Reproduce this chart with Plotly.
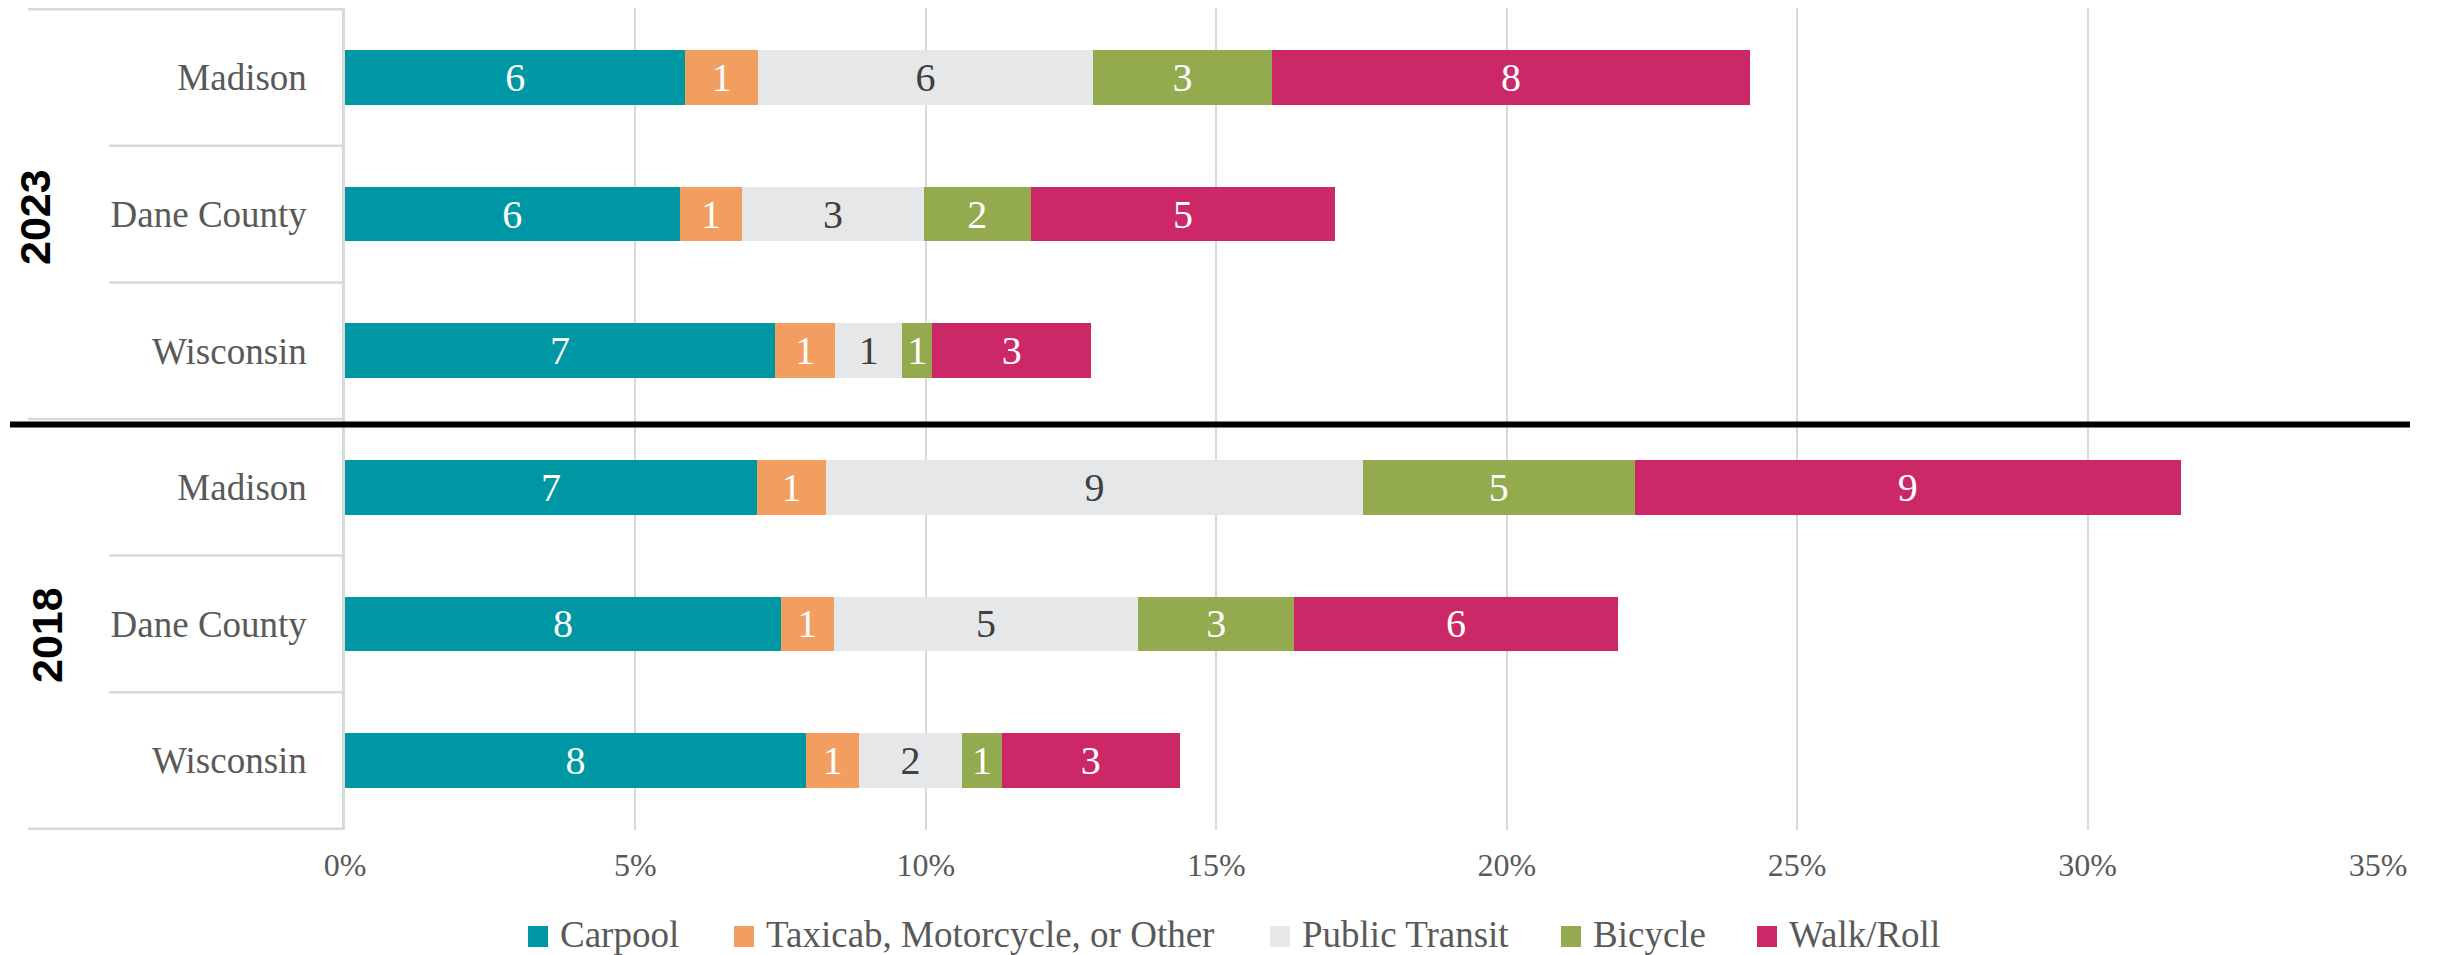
import plotly.graph_objects as go

# categories, top to bottom
years = ["2023", "2023", "2023", "2018", "2018", "2018"]
places = ["Madison", "Dane County", "Wisconsin", "Madison", "Dane County", "Wisconsin"]

# share of commuters (%) by mode
carpool = [5.86, 5.76, 7.40, 7.09, 7.51, 7.94]
taxi_other = [1.25, 1.08, 1.04, 1.19, 0.90, 0.91]
public_transit = [5.77, 3.12, 1.15, 9.25, 5.25, 1.77]
bicycle = [3.08, 1.85, 0.52, 4.67, 2.68, 0.69]
walk_roll = [8.23, 5.23, 2.74, 9.41, 5.57, 3.06]

modes = ["Carpool", "Taxicab, Motorcycle, or Other", "Public Transit", "Bicycle", "Walk/Roll"]
series = [carpool, taxi_other, public_transit, bicycle, walk_roll]
colors = ["#0097A4", "#F29E61", "#E6E7E8", "#94AA4E", "#CC2867"]
label_colors = ["#FFFFFF", "#FFFFFF", "#404040", "#FFFFFF", "#FFFFFF"]

x_ticks = [0, 5, 10, 15, 20, 25, 30, 35]

# the page body has an 8px margin, so the figure is laid out in screen pixels minus that
OFF = 8
SCREEN_W, SCREEN_H = 2440, 955
PLOT_X0, PLOT_X1 = 345, 2378
PLOT_Y0, PLOT_Y1 = 8, 830
PW, PH = PLOT_X1 - PLOT_X0, PLOT_Y1 - PLOT_Y0


def px_x(p):
    return (p - PLOT_X0) / PW


def px_y(p):
    return (PLOT_Y1 - p) / PH


keys = [f"{y} {p}" for y, p in zip(years, places)]
SERIF = "Liberation Serif, Times New Roman, serif"
GREY_TXT = "#595959"
LINE = "#D9D9D9"

fig = go.Figure()
for name, vals, col, lc in zip(modes, series, colors, label_colors):
    fig.add_trace(
        go.Bar(
            x=vals,
            y=keys,
            orientation="h",
            name=name,
            marker=dict(color=col, line=dict(width=0)),
            text=[str(int(v + 0.5)) for v in vals],
            textposition="inside",
            insidetextanchor="middle",
            textangle=0,
            textfont=dict(family=SERIF, size=40, color=lc),
            showlegend=False,
            hoverinfo="x+y+name",
        )
    )

shapes = []
# category-axis separators on the left
for yv, x0 in [(-0.5, 28), (0.5, 109), (1.5, 109), (2.5, 28), (3.5, 109), (4.5, 109), (5.5, 28)]:
    shapes.append(dict(type="line", xref="paper", yref="y", x0=px_x(x0), x1=0,
                       y0=yv, y1=yv, line=dict(color=LINE, width=2.5)))
# black divider between the two years
shapes.append(dict(type="line", xref="paper", yref="y", x0=px_x(10), x1=px_x(2410),
                   y0=2.54, y1=2.54, line=dict(color="#000000", width=6)))

annotations = [
    dict(text="<b>2023</b>", x=px_x(35), y=px_y(217), xref="paper", yref="paper",
         textangle=-90, showarrow=False, xanchor="center", yanchor="middle",
         font=dict(family="Liberation Sans, Arial, sans-serif", size=43, color="#000000")),
    dict(text="<b>2018</b>", x=px_x(47), y=px_y(635), xref="paper", yref="paper",
         textangle=-90, showarrow=False, xanchor="center", yanchor="middle",
         font=dict(family="Liberation Sans, Arial, sans-serif", size=43, color="#000000")),
]

# legend drawn by hand so the swatches match the reference size
swatch_x = [528, 734, 1270, 1561, 1757]
for sx, name, col in zip(swatch_x, modes, colors):
    shapes.append(dict(type="rect", xref="paper", yref="paper",
                       x0=px_x(sx), x1=px_x(sx + 20), y0=px_y(947), y1=px_y(926),
                       fillcolor=col, line=dict(width=0)))
    annotations.append(dict(text=name, x=px_x(sx + 30), y=px_y(934), xref="paper", yref="paper",
                            showarrow=False, xanchor="left", yanchor="middle",
                            font=dict(family=SERIF, size=37, color=GREY_TXT)))

fig.update_layout(
    width=SCREEN_W - OFF,
    height=SCREEN_H - OFF,
    margin=dict(l=PLOT_X0 - OFF, r=SCREEN_W - PLOT_X1, t=PLOT_Y0 - OFF, b=SCREEN_H - PLOT_Y1, pad=0),
    barmode="stack",
    bargap=0.6,
    plot_bgcolor="#FFFFFF",
    paper_bgcolor="#FFFFFF",
    font=dict(family=SERIF, color=GREY_TXT),
    uniformtext=dict(minsize=40, mode="show"),
    shapes=shapes,
    annotations=annotations,
    xaxis=dict(
        range=[0, 35],
        tickvals=x_ticks,
        ticktext=[f"{t}%" for t in x_ticks],
        showgrid=True,
        gridcolor=LINE,
        gridwidth=2,
        zeroline=False,
        showline=False,
        ticks="outside",
        ticklen=7,
        tickcolor="rgba(0,0,0,0)",
        tickfont=dict(family=SERIF, size=32, color=GREY_TXT),
    ),
    yaxis=dict(
        type="category",
        categoryorder="array",
        categoryarray=keys,
        tickvals=keys,
        ticktext=places,
        autorange="reversed",
        showgrid=False,
        showline=True,
        linecolor=LINE,
        linewidth=2.5,
        ticks="",
        ticklabelstandoff=28,
        tickfont=dict(family=SERIF, size=37, color=GREY_TXT),
    ),
)

fig.write_html("out.html")
